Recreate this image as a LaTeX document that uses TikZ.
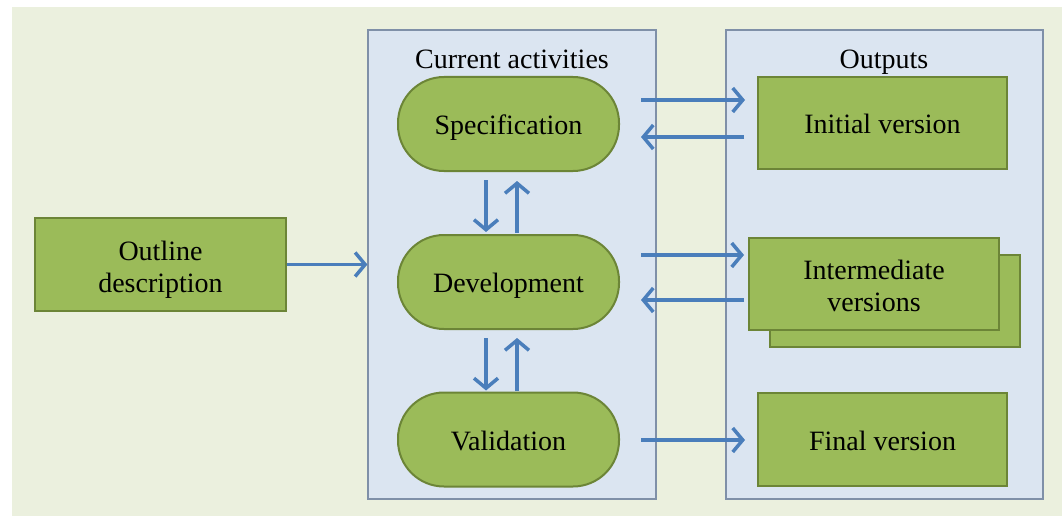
\documentclass[tikz,border=0pt]{standalone}
\usepackage{fontspec}
\setmainfont{Liberation Serif}
\usetikzlibrary{arrows.meta,calc}
\definecolor{bgc}{HTML}{EBF0DE}
\definecolor{panelc}{HTML}{DBE5F1}
\definecolor{panelb}{HTML}{7F90A8}
\definecolor{greenf}{HTML}{9BBB59}
\definecolor{greenb}{HTML}{6C8537}
\definecolor{arrc}{HTML}{4A7EBB}
\tikzset{
  panel/.style={draw=panelb, fill=panelc, line width=1.2pt, minimum width=288pt, minimum height=469pt, inner sep=0pt},
  gbox/.style={draw=greenb, fill=greenf, line width=2pt, align=center, inner sep=0pt,
    font=\fontsize{28}{33}\selectfont, text height=21.5pt, text depth=0pt},
  pill/.style={gbox, rounded corners=46pt, minimum width=221pt, minimum height=94pt},
  arr/.style={draw=arrc, line width=3.5pt, -{Straight Barb[length=10pt,width=24pt,line width=3.5pt]}},
  lbl/.style={font=\fontsize{28}{33}\selectfont, inner sep=0pt, text height=18.5pt, text depth=0pt},
  mltext/.style={font=\fontsize{28}{32.4}\selectfont, inner sep=0pt, align=center}
}
\begin{document}
\begin{tikzpicture}[x=1pt,y=-1pt]
\useasboundingbox (0,0) rectangle (1062,516);
\fill[white] (0,0) rectangle (1062,516);
\fill[bgc] (12,7) rectangle (1062,516);
% panels
\node[panel] (act) at (512,264.5) {};
\node[panel, minimum width=317pt] (out) at (884.5,264.5) {};
\node[lbl] (actl) at (512,59) {Current activities};
\node[lbl] (outl) at (884,59) {Outputs};
% left box
\node[gbox, minimum width=251pt, minimum height=93pt] (outline) at (160.5,264.5) {};
\node[mltext] (outlinet) at ([yshift=-5pt]outline.center) {Outline\\description};
% activities
\node[pill] (spec) at (508.5,124) {Specification};
\node[pill] (dev) at (508.5,282) {Development};
\node[pill] (val) at (508.5,439.5) {Validation};
% outputs
\node[gbox, minimum width=249pt, minimum height=92pt] (init) at (882.5,123) {Initial version};
\node[gbox, minimum width=250pt, minimum height=92pt] (interb) at (895,300.5) {};
\node[gbox, minimum width=250pt, minimum height=92pt] (inter) at (874,284) {};
\node[mltext] (intert) at ([yshift=-2pt]inter.center) {Intermediate\\versions};
\node[gbox, minimum width=249pt, minimum height=93pt] (final) at (882.5,439.5) {Final version};
% arrows
\draw[arr] (outline.east) -- (act.west |- outline.east);
\draw[arr] ([shift={(21,-24)}]spec.east) -- ([shift={(-12,-23)}]init.west);
\draw[arr] ([shift={(-13,14)}]init.west) -- ([shift={(21,13)}]spec.east);
\draw[arr] ([shift={(-22.5,8)}]spec.south) -- ([shift={(-22.5,-2)}]dev.north);
\draw[arr] ([shift={(8.5,-1)}]dev.north) -- ([shift={(8.5,9)}]spec.south);
\draw[arr] ([shift={(21,-27)}]dev.east) -- ([shift={(-4,-29)}]inter.west);
\draw[arr] ([shift={(-4,16)}]inter.west) -- ([shift={(21,18)}]dev.east);
\draw[arr] ([shift={(-22.5,8)}]dev.south) -- ([shift={(-22.5,-1)}]val.north);
\draw[arr] ([shift={(8.5,-1)}]val.north) -- ([shift={(8.5,8)}]dev.south);
\draw[arr] ([shift={(21,0.5)}]val.east) -- ([shift={(-12,0.5)}]final.west);
\end{tikzpicture}
\end{document}
